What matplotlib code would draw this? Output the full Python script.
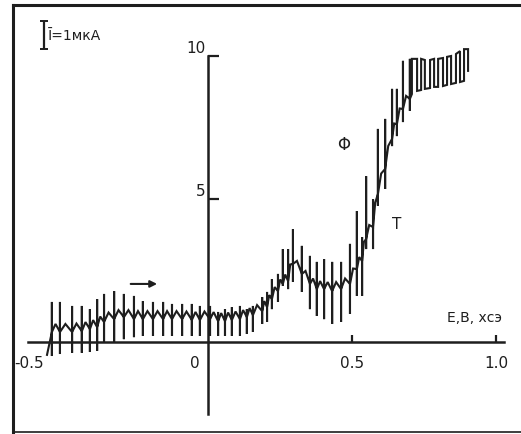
import matplotlib
matplotlib.use("Agg")
import matplotlib.pyplot as plt
from matplotlib.lines import Line2D

# ---- data (E, V vs. Ag/AgCl ; current, µA) ----
start_x = [-0.559]
start_y = [-0.45]

# oscillating part: position of each oscillation, its upper and lower excursion and the mean level
spike_x = [-0.542, -0.514, -0.472, -0.438, -0.410, -0.385, -0.361, -0.326, -0.292, -0.257,
           -0.226, -0.191, -0.156, -0.125, -0.090, -0.056, -0.028, 0.007, 0.035, 0.059,
           0.083, 0.111, 0.135, 0.156, 0.188, 0.205, 0.222, 0.243, 0.260, 0.278,
           0.295, 0.326, 0.354, 0.378, 0.403, 0.431, 0.462, 0.493, 0.517, 0.535,
           0.549, 0.573, 0.590, 0.615, 0.639, 0.656, 0.677, 0.701]
spike_top = [1.40, 1.40, 1.26, 1.26, 1.15, 1.50, 1.68, 1.78, 1.68, 1.61,
             1.43, 1.40, 1.40, 1.33, 1.33, 1.33, 1.26, 1.26, 1.05, 1.15,
             1.22, 1.26, 1.15, 1.26, 1.57, 1.75, 2.20, 2.38, 3.25, 3.25,
             3.95, 3.36, 3.01, 2.80, 2.90, 2.80, 2.80, 3.43, 4.58, 3.67,
             5.80, 5.00, 7.45, 7.80, 8.85, 8.85, 9.83, 9.90]
spike_bot = [-0.49, -0.42, -0.38, -0.38, -0.35, -0.31, 0.00, 0.00, 0.10, 0.17,
             0.21, 0.21, 0.21, 0.21, 0.21, 0.21, 0.21, 0.21, 0.21, 0.21,
             0.21, 0.21, 0.28, 0.35, 0.63, 0.70, 1.15, 1.40, 1.96, 1.85,
             2.10, 1.75, 1.15, 0.91, 0.80, 0.63, 0.70, 0.98, 1.61, 1.61,
             3.25, 3.25, 4.76, 5.35, 6.85, 7.20, 7.69, 8.08]
spike_base = [0.35, 0.35, 0.35, 0.38, 0.45, 0.52, 0.70, 0.80, 0.87, 0.80,
              0.80, 0.80, 0.80, 0.80, 0.80, 0.77, 0.77, 0.80, 0.73, 0.73,
              0.77, 0.80, 0.87, 0.94, 1.08, 1.22, 1.50, 1.78, 2.03, 2.13,
              2.73, 2.38, 2.03, 1.85, 1.85, 1.78, 1.85, 2.03, 2.55, 2.83,
              3.60, 4.02, 5.17, 6.05, 7.10, 7.62, 8.15, 8.50]

# limiting-current plateau (square-wave oscillation)
plateau_x = [0.708, 0.726, 0.740, 0.753, 0.771, 0.785, 0.799, 0.816, 0.830, 0.844,
             0.861, 0.875, 0.889, 0.903]
plateau_top = [9.90, 9.90, 9.90, 9.86, 9.86, 9.90, 9.90, 9.93, 9.97, 10.00,
               10.07, 10.17, 10.24, 10.24]
plateau_bot = [8.67, 8.78, 8.81, 8.85, 8.88, 8.92, 8.92, 8.95, 8.99, 9.02,
               9.06, 9.09, 9.13, 9.48]

x_tick_vals = [0.5, 1.0]
x_tick_labels = ["0.5", "1.0"]
y_tick_vals = [5, 10]
y_tick_labels = ["5", "10"]

INK = "#1e1e1e"
HUMP = 0.28

# ---- build the trace ----
tx, ty = list(start_x), list(start_y)
n = len(spike_x)
for i in range(n):
    x = spike_x[i]
    tx += [x, x, x, x]
    ty += [spike_base[i], spike_top[i], spike_bot[i], spike_base[i]]
    if i < n - 1:
        xm = x + 0.45 * (spike_x[i + 1] - x)
        tx.append(xm)
        ty.append(0.5 * (spike_base[i] + spike_base[i + 1]) + HUMP)
for j in range(len(plateau_x)):
    x = plateau_x[j]
    if j % 2 == 0:
        tx += [x, x]
        ty += [plateau_bot[j], plateau_top[j]]
    else:
        tx += [x, x]
        ty += [plateau_top[j], plateau_bot[j]]

fig = plt.figure(figsize=(5.21, 4.35), dpi=100)
fig.patch.set_facecolor("white")
ax = fig.add_axes([0, 0, 1, 1])
ax.set_xlim(-0.7222, 1.0868)
ax.set_ylim(-3.217, 11.993)
ax.patch.set_alpha(0)

ax.plot(tx, ty, color=INK, lw=1.5, solid_joinstyle="miter")

# axes through the origin
for s in ["top", "right"]:
    ax.spines[s].set_visible(False)
ax.spines["bottom"].set_position(("data", 0))
ax.spines["left"].set_position(("data", 0))
ax.spines["bottom"].set_bounds(-0.625, 1.028)
ax.spines["left"].set_bounds(-2.52, 10.0)
for s in ["bottom", "left"]:
    ax.spines[s].set_linewidth(1.8)
    ax.spines[s].set_color(INK)
ax.set_xticks(x_tick_vals)
ax.set_xticklabels([])
ax.set_yticks(y_tick_vals)
ax.set_yticklabels([])
ax.tick_params(axis="x", direction="in", length=5, width=1.6, color=INK)
ax.tick_params(axis="y", direction="in", length=8, width=1.6, color=INK)

fs = 11
fam = ["DejaVu Sans"]
for v, lab in zip(x_tick_vals, x_tick_labels):
    ax.text(v, -0.72, lab, ha="center", va="center", fontsize=fs, color=INK, family=fam)
ax.text(-0.045, -0.72, "0", ha="center", va="center", fontsize=fs, color=INK, family=fam)
ax.text(-0.622, -0.72, "-0.5", ha="center", va="center", fontsize=fs, color=INK, family=fam)
for v, lab in zip(y_tick_vals, y_tick_labels):
    ax.text(-0.007, v + 0.05, lab, ha="right", va="bottom", fontsize=fs, color=INK, family=fam)

ax.text(0.927, 0.87, "Е,В, хсэ", ha="center", va="center", fontsize=10, color=INK, family=fam)
ax.text(0.472, 6.92, "Φ", ha="center", va="center", fontsize=12, color=INK, family=fam)
ax.text(0.656, 4.16, "T", ha="center", va="center", fontsize=11, color=INK, family=fam)
ax.annotate("", xy=(-0.167, 2.03), xytext=(-0.278, 2.03),
            arrowprops=dict(arrowstyle="-|>", color=INK, lw=1.5, mutation_scale=10))

# 1 µA scale bar
ax.errorbar([-0.569], [10.73], yerr=[[0.5], [0.5]], fmt="none", ecolor=INK,
            elinewidth=1.6, capsize=3, capthick=1.4)
ax.text(-0.555, 10.73, "Ī=1мкА", ha="left", va="center", fontsize=10, color=INK, family=fam)

# frame of the original figure
lw_frame = 2.2
fig.add_artist(Line2D([0.025, 0.025], [0.005, 0.986], color=INK, lw=lw_frame))
fig.add_artist(Line2D([0.025, 1.0], [0.986, 0.986], color=INK, lw=lw_frame))
fig.add_artist(Line2D([0.025, 1.0], [0.005, 0.005], color=INK, lw=1.2))

fig.savefig("out.png", dpi=100)
